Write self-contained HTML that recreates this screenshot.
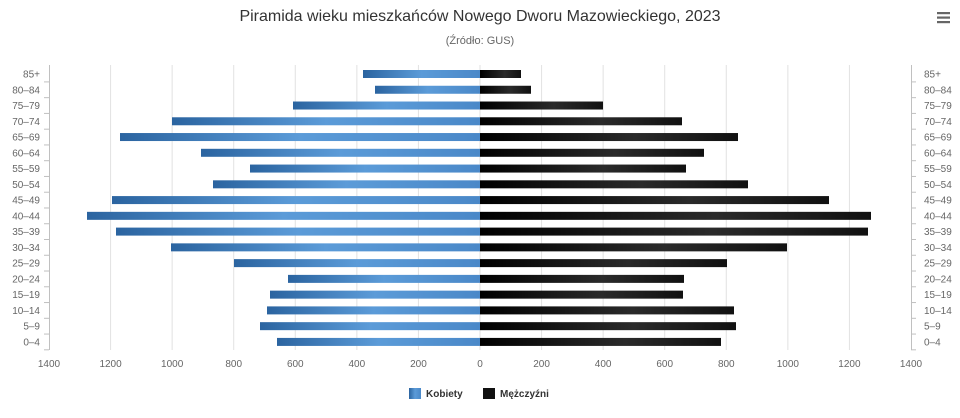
<!DOCTYPE html>
<html><head><meta charset="utf-8"><style>body{margin:0;background:#fff}svg{display:block;font-family:"Liberation Sans",sans-serif}</style></head><body>
<svg width="960" height="418" xmlns="http://www.w3.org/2000/svg">
<defs>
<linearGradient id="b" x1="0" x2="1"><stop offset="0" stop-color="#2b64a0"/><stop offset="0.5" stop-color="#5b9bd8"/><stop offset="1" stop-color="#4a88c8"/></linearGradient>
<linearGradient id="k" x1="0" x2="1"><stop offset="0" stop-color="#000"/><stop offset="0.6" stop-color="#2a2a2a"/><stop offset="1" stop-color="#111"/></linearGradient>
</defs>
<text x="480" y="21" text-anchor="middle" font-size="16" fill="#333">Piramida wieku mieszkańców Nowego Dworu Mazowieckiego, 2023</text>
<text x="480" y="44" text-anchor="middle" font-size="11" fill="#666">(Źródło: GUS)</text>
<g fill="#666"><rect x="937" y="12" width="13" height="2.2"/><rect x="937" y="16.5" width="13" height="2.2"/><rect x="937" y="21" width="13" height="2.2"/></g>
<g stroke="#e2e2e2" stroke-width="1" id="grid"></g>
<g stroke="#c0c0c0"><line x1="49.5" y1="65" x2="49.5" y2="350"/><line x1="911.5" y1="65" x2="911.5" y2="350"/></g>
<g id="bars"></g>
<g id="labels" font-size="10" fill="#666"></g>
<rect x="409" y="388" width="12" height="11" fill="url(#b)"/>
<text x="426" y="397" font-size="10" font-weight="bold" fill="#333">Kobiety</text>
<rect x="483" y="388" width="12" height="11" fill="#111"/>
<text x="500" y="397" font-size="10" font-weight="bold" fill="#333">Mężczyźni</text>
<script>
var ns="http://www.w3.org/2000/svg";
function el(p,t,a,txt){var e=document.createElementNS(ns,t);for(var k in a)e.setAttribute(k,a[k]);if(txt)e.textContent=txt;document.getElementById(p).appendChild(e);}
var s=431/1400;
for(var v=-1400;v<=1400;v+=200){var x=480+v*s;if(v!=-1400&&v!=1400)el("grid","line",{x1:x,y1:65,x2:x,y2:350});
el("labels","text",{x:x,y:367,"text-anchor":"middle"},String(Math.abs(v)));}
var lab=["85+","80–84","75–79","70–74","65–69","60–64","55–59","50–54","45–49","40–44","35–39","30–34","25–29","20–24","15–19","10–14","5–9","0–4"];
var L=[363,375,293,172,120,201,250,213,112,87,116,171,234,288,270,267,260,277];
var R=[521,531,603,682,738,704,686,748,829,871,868,787,727,684,683,734,736,721];
for(var i=0;i<18;i++){var y=74+i*15.76;
el("bars","rect",{x:L[i],y:y-4,width:480-L[i],height:8,fill:"url(#b)"});
el("bars","rect",{x:480,y:y-4,width:R[i]-480,height:8,fill:"url(#k)"});
el("labels","text",{x:40,y:y+3.5,"text-anchor":"end"},lab[i]);
el("labels","text",{x:924,y:y+3.5},lab[i]);
el("grid","line",{x1:44,y1:y+7.9,x2:49,y2:y+7.9,stroke:"#c0c0c0"});
el("grid","line",{x1:911,y1:y+7.9,x2:916,y2:y+7.9,stroke:"#c0c0c0"});}
</script>
</svg>
</body></html>
